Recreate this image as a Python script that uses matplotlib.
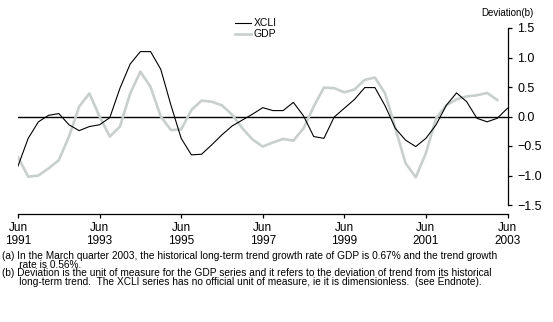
import numpy as np
import matplotlib.pyplot as plt

# quarterly deviation from trend, Jun 1991 onwards
xcli = [-0.84, -0.37, -0.09, 0.02, 0.05, -0.14, -0.24, -0.17, -0.14, -0.02,
        0.48, 0.89, 1.10, 1.10, 0.80, 0.19, -0.37, -0.65, -0.64, -0.48,
        -0.31, -0.16, -0.06, 0.04, 0.15, 0.10, 0.10, 0.24, 0.01, -0.34,
        -0.37, -0.01, 0.14, 0.29, 0.49, 0.49, 0.18, -0.20, -0.40, -0.51,
        -0.37, -0.14, 0.19, 0.40, 0.25, -0.03, -0.09, -0.03, 0.14]
gdp = [-0.69, -1.02, -1.00, -0.88, -0.74, -0.34, 0.17, 0.39, 0.00, -0.34,
       -0.17, 0.39, 0.76, 0.50, 0.00, -0.23, -0.22, 0.11, 0.27, 0.25,
       0.19, 0.03, -0.20, -0.39, -0.51, -0.44, -0.38, -0.41, -0.20, 0.17,
       0.49, 0.48, 0.41, 0.46, 0.62, 0.66, 0.39, -0.20, -0.79, -1.03,
       -0.62, -0.03, 0.19, 0.29, 0.34, 0.36, 0.40, 0.28]
tick_years = ['1991', '1993', '1995', '1997', '1999', '2001', '2003']
yticks = [-1.5, -1.0, -0.5, 0.0, 0.5, 1.0, 1.5]

notes = [
    "(a) In the March quarter 2003, the historical long-term trend growth rate of GDP is 0.67% and the trend growth",
    "      rate is 0.56%.",
    "(b) Deviation is the unit of measure for the GDP series and it refers to the deviation of trend from its historical",
    "      long-term trend.  The XCLI series has no official unit of measure, ie it is dimensionless.  (see Endnote).",
]

plt.rcParams['font.family'] = ['Liberation Sans', 'DejaVu Sans']
narrow = ['Liberation Sans Narrow', 'Liberation Sans', 'DejaVu Sans']

W, H = 553, 322
fig = plt.figure(figsize=(W / 100, H / 100), dpi=100)
ax = fig.add_axes([18 / W, 1 - 205 / H, (507.5 - 18) / W, (205 - 28) / H])

gray = '#c8cfcc'
ax.plot(np.arange(len(gdp)), gdp, color=gray, lw=1.9, label='GDP', zorder=2)
ax.plot(np.arange(len(xcli)), xcli, color='black', lw=0.8, label='XCLI', zorder=3)
ax.axhline(0, color='black', lw=1.0, zorder=1)

ax.set_xlim(0, 48)
ax.set_ylim(-1.5, 1.5)

ax.spines['top'].set_visible(False)
ax.spines['left'].set_visible(False)
ax.spines['bottom'].set_position(('outward', 6.5))
ax.spines['right'].set_linewidth(0.9)
ax.spines['bottom'].set_linewidth(0.9)

ax.yaxis.tick_right()
ax.set_yticks(yticks)
ax.set_yticklabels(['\u2212%.1f' % abs(v) if v < 0 else '%.1f' % v for v in yticks])
ax.tick_params(axis='y', direction='out', length=3, width=0.9, labelsize=9, pad=4)

ax.set_xticks(np.arange(0, 49, 8))
ax.set_xticklabels(['Jun\n' + y for y in tick_years], linespacing=1.2)
ax.tick_params(axis='x', direction='out', length=3, width=0.9, labelsize=8.5, pad=2.5)

fig.text(533 / W, 1 - 13 / H, 'Deviation(b)', ha='right', va='center', fontsize=7,
         family=narrow)

# legend drawn by hand in figure coordinates
for yy, col, lw, lab in [(23, 'black', 0.8, 'XCLI'), (34, gray, 1.9, 'GDP')]:
    fig.add_artist(plt.Line2D([235 / W, 251 / W], [1 - yy / H, 1 - yy / H], color=col, lw=lw))
    fig.text(254 / W, 1 - yy / H, lab, ha='left', va='center', fontsize=7.5, family=narrow)

for i, line in enumerate(notes):
    fig.text(2 / W, 1 - (256 + i * 8.7) / H, line, ha='left', va='center', fontsize=7.3)

fig.savefig('out.png', dpi=100)
